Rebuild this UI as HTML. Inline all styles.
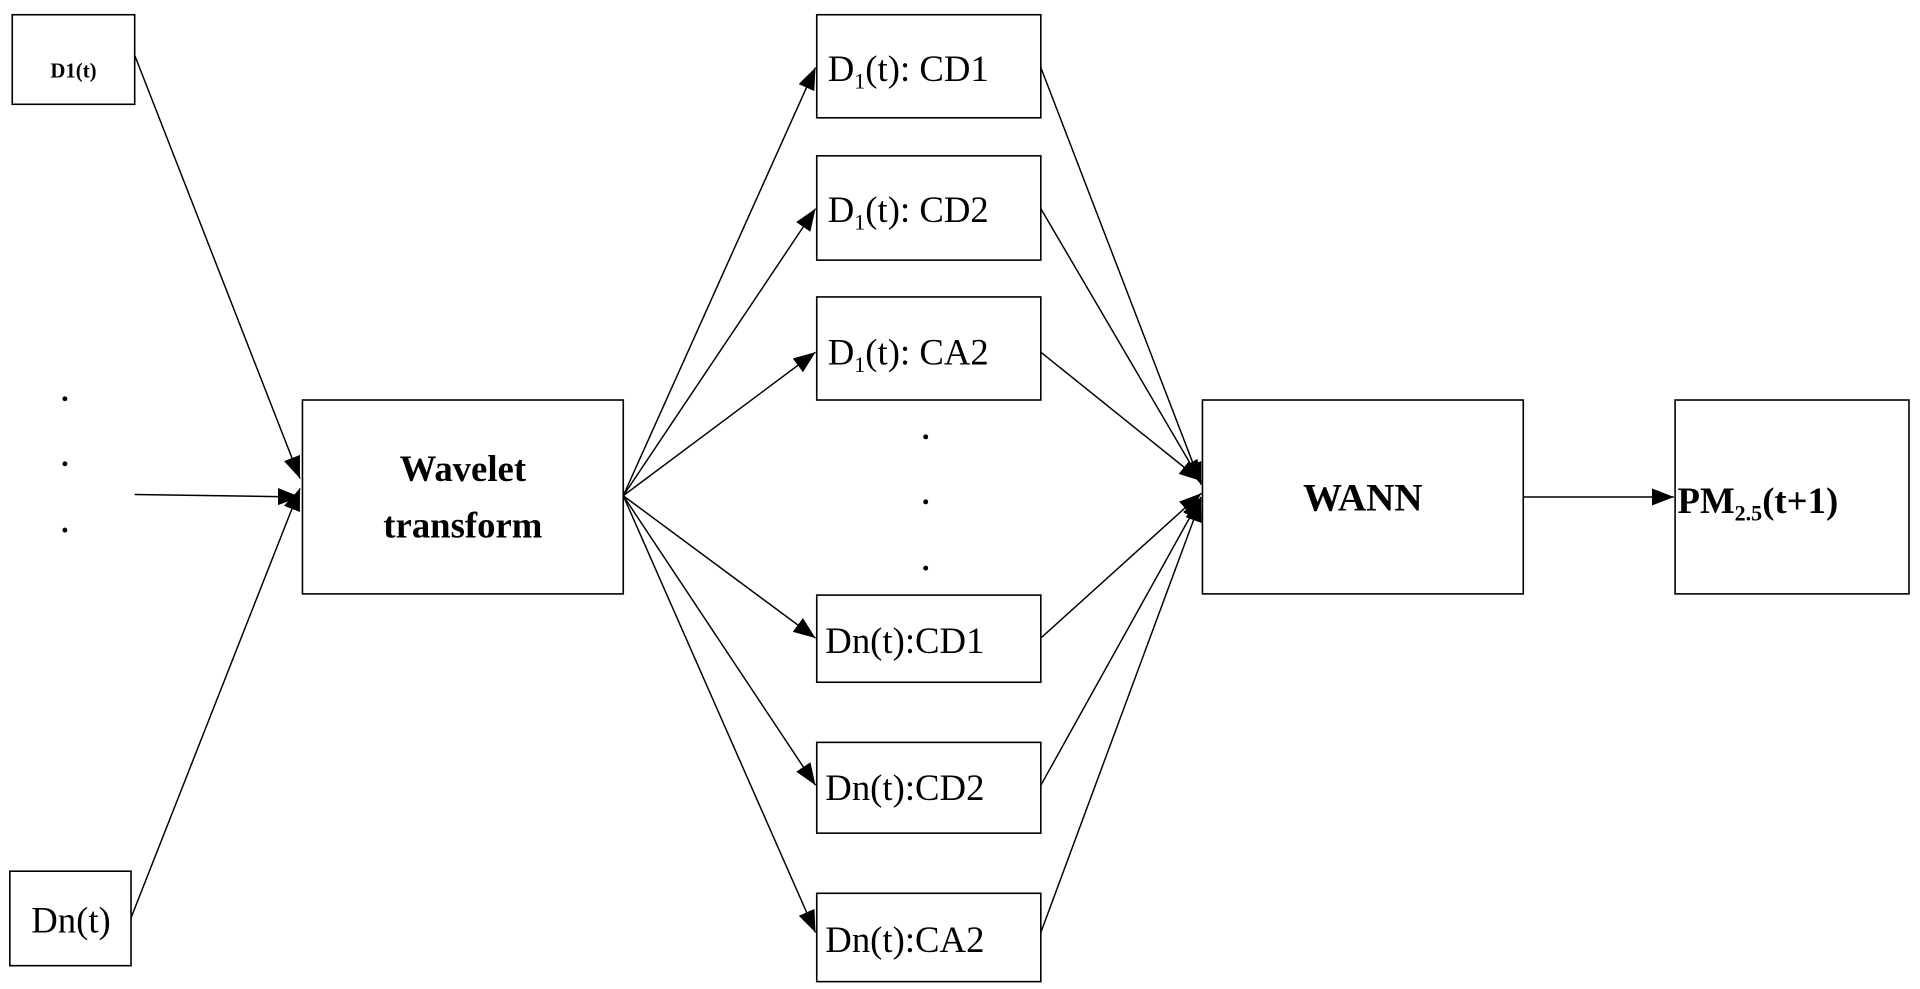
<!DOCTYPE html>
<html><head><meta charset="utf-8"><style>html,body{margin:0;padding:0;background:#fff}svg{display:block}</style></head>
<body>
<svg width="1920" height="989" viewBox="0 0 1568 806" preserveAspectRatio="none" xmlns="http://www.w3.org/2000/svg">
<defs><marker id="a" markerWidth="20" markerHeight="14" refX="18" refY="7" orient="auto" markerUnits="userSpaceOnUse"><path d="M0,0 L18,7 L0,14 z" fill="#000"/></marker></defs>
<g fill="none" stroke="#000" stroke-width="1.3">
<rect x="10" y="12" width="100" height="73"/>
<rect x="8" y="710" width="99" height="77"/>
<rect x="247" y="326" width="262" height="158"/>
<rect x="667" y="12" width="183" height="84"/>
<rect x="667" y="127" width="183" height="85"/>
<rect x="667" y="242" width="183" height="84"/>
<rect x="667" y="485" width="183" height="71"/>
<rect x="667" y="605" width="183" height="74"/>
<rect x="667" y="728" width="183" height="72"/>
<rect x="982" y="326" width="262" height="158"/>
<rect x="1368" y="326" width="191" height="158"/>
</g>
<g stroke="#000" stroke-width="1.2" marker-end="url(#a)">
<line x1="110" y1="45" x2="245" y2="390"/>
<line x1="110" y1="403" x2="245" y2="405"/>
<line x1="107" y1="748" x2="245" y2="398"/>
<line x1="509" y1="404" x2="666" y2="55"/>
<line x1="509" y1="404" x2="666" y2="170"/>
<line x1="509" y1="404" x2="666" y2="287"/>
<line x1="509" y1="404" x2="666" y2="520"/>
<line x1="509" y1="404" x2="666" y2="640"/>
<line x1="509" y1="404" x2="666" y2="760"/>
<line x1="850" y1="55" x2="981" y2="395"/>
<line x1="850" y1="170" x2="981" y2="393"/>
<line x1="850" y1="287" x2="981" y2="392"/>
<line x1="850" y1="520" x2="981" y2="402"/>
<line x1="850" y1="640" x2="981" y2="405"/>
<line x1="850" y1="760" x2="981" y2="407"/>
<line x1="1244" y1="405" x2="1367" y2="405"/>
</g>
<g fill="#000">
<circle cx="53" cy="325" r="2"/><circle cx="53" cy="378" r="2"/><circle cx="53" cy="432" r="2"/>
<circle cx="756" cy="356" r="2"/><circle cx="756" cy="409" r="2"/><circle cx="756" cy="463" r="2"/>
</g>
<g font-family="'Liberation Serif',serif" fill="#000">
<text x="60" y="63" font-size="17" font-weight="bold" text-anchor="middle">D1(t)</text>
<text x="58" y="760" font-size="30" text-anchor="middle">Dn(t)</text>
<text x="378" y="392" font-size="30" font-weight="bold" text-anchor="middle">Wavelet</text>
<text x="378" y="438" font-size="30" font-weight="bold" text-anchor="middle">transform</text>
<text x="1113" y="416" font-size="32" font-weight="bold" text-anchor="middle">WANN</text>
<text x="1370" y="418" font-size="30" font-weight="bold">PM<tspan font-size="18" dy="6">2.5</tspan><tspan dy="-6">(t+1)</tspan></text>
<text x="676" y="66" font-size="30">D<tspan font-size="18" dy="6">1</tspan><tspan dy="-6">(t):  CD1</tspan></text>
<text x="676" y="181" font-size="30">D<tspan font-size="18" dy="6">1</tspan><tspan dy="-6">(t):  CD2</tspan></text>
<text x="676" y="297" font-size="30">D<tspan font-size="18" dy="6">1</tspan><tspan dy="-6">(t):  CA2</tspan></text>
<text x="674" y="532" font-size="30">Dn(t):CD1</text>
<text x="674" y="652" font-size="30">Dn(t):CD2</text>
<text x="674" y="776" font-size="30">Dn(t):CA2</text>
</g>
</svg>
</body></html>
